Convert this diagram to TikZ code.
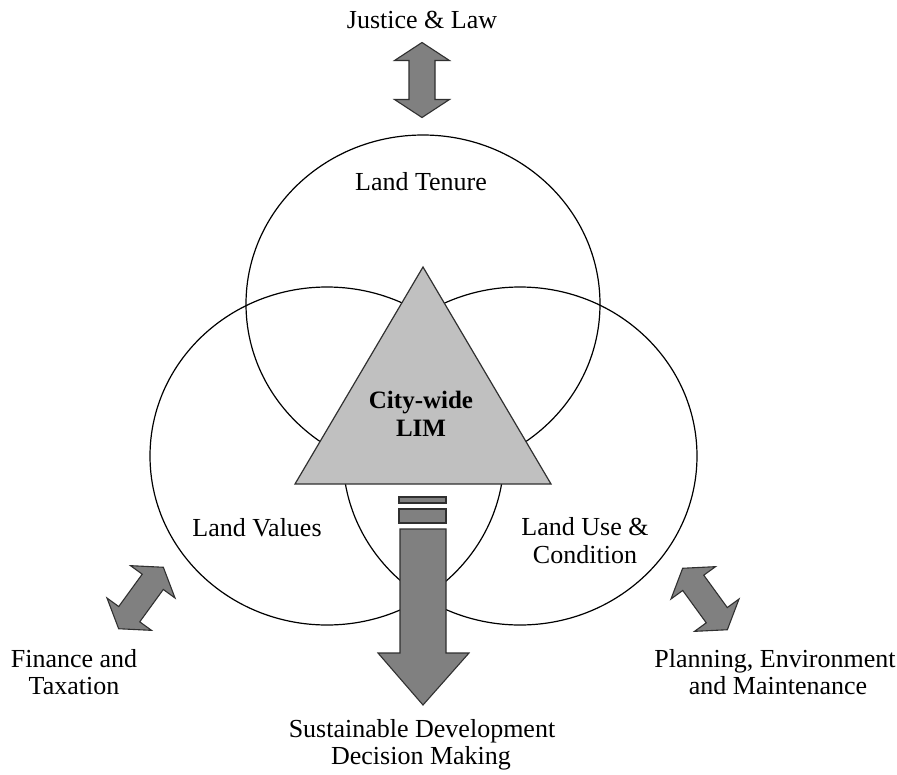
\documentclass[tikz,border=0pt]{standalone}
\usepackage{fontspec}
\setmainfont{Liberation Serif}
\usetikzlibrary{shapes.geometric}
\definecolor{tri}{HTML}{C0C0C0}
\definecolor{arr}{HTML}{808080}
\definecolor{edge}{HTML}{303030}
\newcommand{\DblArr}[4]{%
  \begin{scope}[shift={(#1,#2)},rotate=#3]
    \pgfmathsetmacro{\aa}{#4/2}
    \pgfmathsetmacro{\bb}{#4/2-18}
    \draw[bigarrow] (-\aa,0) -- (-\bb,27.5) -- (-\bb,13) -- (\bb,13) -- (\bb,27.5) -- (\aa,0)
      -- (\bb,-27.5) -- (\bb,-13) -- (-\bb,-13) -- (-\bb,-27.5) -- cycle;
  \end{scope}}
\begin{document}
\begin{tikzpicture}[x=1pt,y=-1pt,
  ring/.style={draw=black,line width=1.2pt,ellipse,minimum width=354pt,minimum height=338pt,inner sep=0pt},
  bigarrow/.style={fill=arr,draw=edge,line width=1.1pt,line join=miter},
  lbl/.style={font=\fontsize{26}{28}\selectfont,anchor=base,inner sep=0pt},
  core/.style={font=\fontsize{25}{28}\selectfont\bfseries,anchor=base,inner sep=0pt}]
\useasboundingbox (0,0) rectangle (897,774);
\fill[white] (0,0) rectangle (897,774);
% circles
\node[ring] (tenure) at (423,304) {};
\node[ring] (values) at (327,456) {};
\node[ring] (use) at (520,456) {};
% triangle
\draw[fill=tri,draw=edge,line width=1.2pt,line join=miter] (423,267) -- (551,484) -- (295,484) -- cycle;
\node[core] (lim1) at (421,408) {City-wide};
\node[core] (lim2) at (421,436) {LIM};
% down arrow
\draw[bigarrow] (399,497) rectangle (446,503);
\draw[bigarrow] (399,509) rectangle (446,523);
\draw[bigarrow] (400,529) -- (446,529) -- (446,653) -- (469,653) -- (423,705) -- (378,653) -- (400,653) -- cycle;
% double arrows
\DblArr{422}{80}{90}{75}
\DblArr{141}{598}{54}{76}
\DblArr{705}{599}{-54}{76}
% labels
\node[lbl] (jl) at (422,28) {Justice \& Law};
\node[lbl] (lt) at (421,190) {Land Tenure};
\node[lbl] (lv) at (257,536) {Land Values};
\node[lbl] (lu1) at (585,535) {Land Use \&};
\node[lbl] (lu2) at (585,563) {Condition};
\node[lbl] (ft1) at (74,667) {Finance and};
\node[lbl] (ft2) at (74,694) {Taxation};
\node[lbl] (pe1) at (775,667) {Planning, Environment};
\node[lbl] (pe2) at (778,694) {and Maintenance};
\node[lbl] (sd1) at (422,737) {Sustainable Development};
\node[lbl] (sd2) at (421,764) {Decision Making};
\end{tikzpicture}
\end{document}
